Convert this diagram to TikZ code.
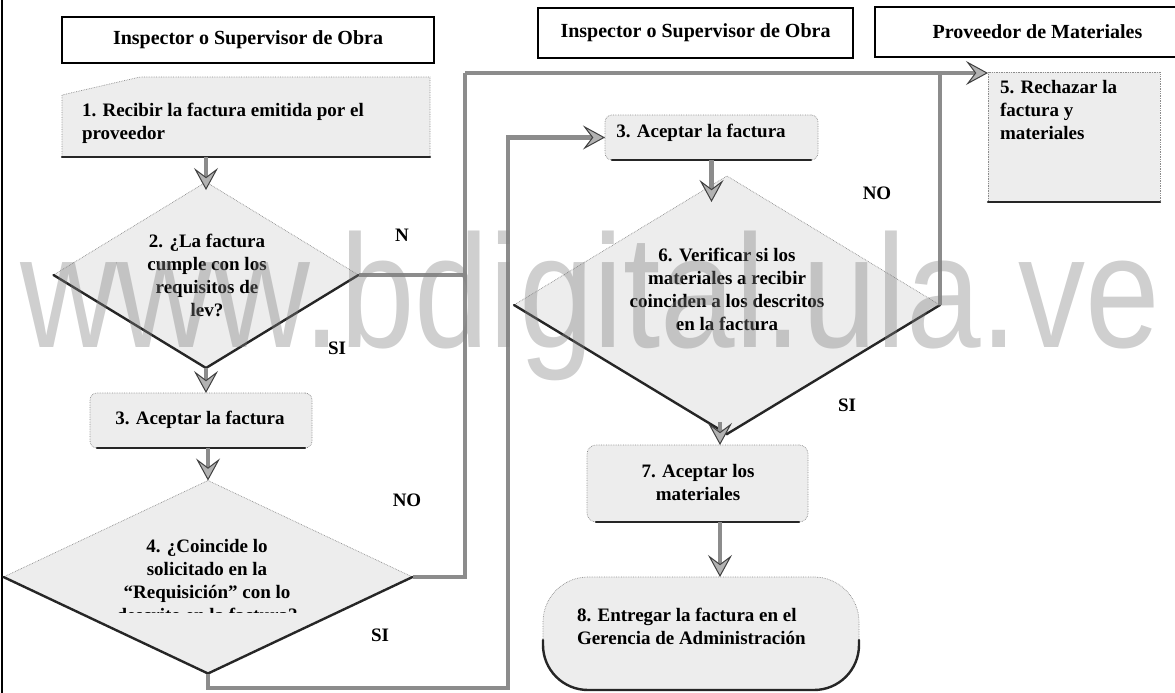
\documentclass[tikz,border=0pt]{standalone}
\usepackage{fontspec}
\usepackage{graphicx}
\setmainfont{Liberation Serif}
\newfontfamily\wmfont{Liberation Sans}
\usetikzlibrary{shapes.geometric,arrows.meta,calc}
\begin{document}
\begin{tikzpicture}[x=1pt,y=-1pt,
  every node/.style={inner sep=0pt, outer sep=0pt},
  txt/.style={font=\fontsize{19}{23}\selectfont\bfseries, align=center},
  lbl/.style={font=\fontsize{19}{23}\selectfont\bfseries},
  hdr/.style={draw=black, line width=1.1pt, fill=white, font=\fontsize{20}{24}\selectfont\bfseries},
  boxfill/.style={fill=black!7, draw=black!45, densely dotted, line width=0.7pt},
  shade/.style={draw=black!85, line width=2.4pt, line cap=round},
  conn/.style={draw=black!45, line width=4.5pt},
  arr/.style={conn, -{Stealth[length=22pt,width=24pt,inset=9pt,line width=1pt,fill=black!30,color=black!75]}},
]
\useasboundingbox (0,0) rectangle (1175,693);
\draw[line width=1.5pt] (2,0) -- (2,693);

% headers
\node[hdr, minimum width=372pt, minimum height=46pt] (h1) at (248,40) {Inspector o Supervisor de Obra};
\node[hdr, minimum width=315pt, minimum height=50pt] (h2) at (695.5,33) {Inspector o Supervisor de Obra};
\node[hdr, minimum width=325pt, minimum height=50pt] (h3) at (1037.5,32) {Proveedor de Materiales};

% step 1
\node[minimum width=368pt, minimum height=80pt] (s1) at (246,117) {};
\path[boxfill] (s1.south west) -- ($(s1.north west)+(0,18)$) -- ($(s1.north west)+(78,0)$) -- (s1.north east) -- (s1.south east) -- cycle;
\draw[shade] (s1.south west) -- (s1.south east);
\node[txt, align=left, anchor=west] (t1) at (82,123.5) {1. Recibir la factura emitida por el\\proveedor};

% diamond 2
\node[diamond, boxfill, minimum width=305pt, minimum height=186pt] (d2) at (206,275) {};
\draw[shade] (d2.west) -- (d2.south) -- (d2.east);
\node[txt] (t2) at (207,275) {2. ¿La factura\\cumple con los\\requisitos de\\lev?};
\node[lbl] (n2) at (402,235) {N};
\node[lbl] (y2) at (337,348) {SI};

% step 3 left
\node[boxfill, rounded corners=7pt, minimum width=222pt, minimum height=55pt] (s3) at (201,420.5) {};
\draw[shade] ([xshift=7pt]s3.south west) -- ([xshift=-7pt]s3.south east);
\node[txt] (t3) at (200,420) {3. Aceptar la factura};

% diamond 4
\node[diamond, boxfill, minimum width=409pt, minimum height=193pt] (d4) at (208,577) {};
\draw[shade] (d4.west) -- (d4.south) -- (d4.east);
\begin{scope}
\clip (0,480) rectangle (420,612);
\node[txt] (t4) at (207,581) {4. ¿Coincide lo\\solicitado en la\\“Requisición” con lo\\descrito en la factura?};
\end{scope}
\node[lbl] (n4) at (407,500) {NO};
\node[lbl] (y4) at (380,635) {SI};

% step 3 right
\node[boxfill, rounded corners=7pt, minimum width=213pt, minimum height=45pt] (s3r) at (711.5,137.5) {};
\draw[shade] ([xshift=7pt]s3r.south west) -- ([xshift=-7pt]s3r.south east);
\node[txt] (t3r) at (701,133) {3. Aceptar la factura};

% step 5
\node[boxfill, minimum width=172pt, minimum height=130pt] (s5) at (1074,137) {};
\draw[shade] (s5.south west) -- (s5.south east);
\node[txt, align=left, anchor=west] (t5) at (1000,110) {5. Rechazar la\\factura y\\materiales};

% diamond 6
\node[diamond, boxfill, minimum width=426pt, minimum height=258pt] (d6) at (727,305) {};
\draw[shade] (d6.west) -- (d6.south) -- (d6.east);
\node[txt] (t6) at (727,289) {6. Verificar si los\\materiales a recibir\\coinciden a los descritos\\en la factura};
\node[lbl] (n6) at (877,193) {NO};
\node[lbl] (y6) at (847,405) {SI};

% step 7
\node[boxfill, rounded corners=9pt, minimum width=221pt, minimum height=77pt] (s7) at (697.5,483.5) {};
\draw[shade] ([xshift=9pt]s7.south west) -- ([xshift=-9pt]s7.south east);
\node[txt] (t7) at (698,482) {7. Aceptar los\\materiales};

% step 8
\node[boxfill, rounded corners=45pt, minimum width=316pt, minimum height=113pt] (s8) at (701,633.5) {};
\draw[shade, rounded corners=45pt] ($(s8.south west)+(0,-50)$) -- (s8.south west) -- (s8.south east) -- ($(s8.south east)+(0,-50)$);
\node[txt, align=left, anchor=west] (t8) at (577,626) {8. Entregar la factura en el\\Gerencia de Administración};

% connectors
\coordinate (bus) at (465,73);
\coordinate (low) at (508,688);
\coordinate (xa) at (720,0);
\draw[conn] (d2.east) -| (bus);
\draw[conn] (d4.east) -| (bus);
\draw[conn] (d6.east) -- (d6.east |- bus);
\draw[arr] (bus) -- (bus -| s5.west);
\draw[arr] (d4.south) |- (low) |- (s3r.west);

\draw[arr] (s1.south -| d2.north) -- ($(d2.north)+(0,8)$);
\draw[arr] (d2.south) -- (s3.north -| d2.south);
\draw[arr] (s3.south -| d4.north) -- (d4.north);
\draw[arr] (s3r.south) -- ($(s3r.south |- d6.north)+(0,26)$);
\draw[arr] ($(xa |- d6.south)+(0,-12)$) -- (xa |- s7.north);
\draw[arr] (xa |- s7.south) -- (xa |- s8.north);

% watermark
\node[font=\wmfont\fontsize{134}{134}\selectfont, text=black!50, text opacity=0.38, anchor=base] (wm) at (590,347) {\scalebox{1}[1.2]{www.bdigital.ula.ve}};
\end{tikzpicture}
\end{document}
